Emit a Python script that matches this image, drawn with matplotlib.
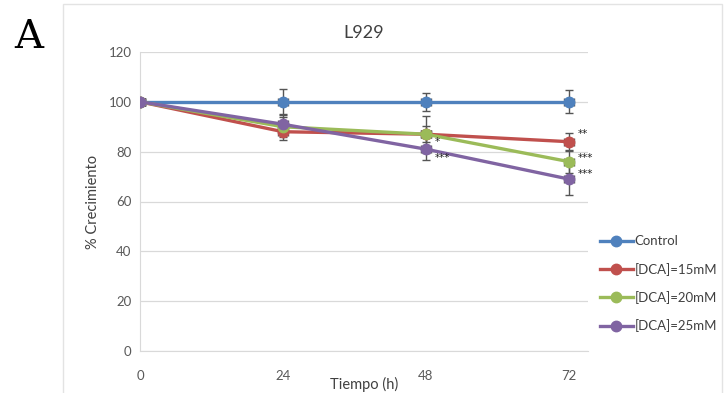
import matplotlib.pyplot as plt
from matplotlib.patches import Rectangle

plt.rcParams["font.family"] = ["Lato", "DejaVu Sans"]

# ---- data ----
tiempo = [0, 24, 48, 72]
series = ["Control", "[DCA]=15mM", "[DCA]=20mM", "[DCA]=25mM"]
control = [100, 100, 100, 100]
dca15 = [100, 88, 87, 84]
dca20 = [100, 90, 87, 76]
dca25 = [100, 91, 81, 69]
err_control = [0, 5.2, 3.6, 4.6]
err_dca15 = [0, 3.4, 3.2, 3.4]
err_dca20 = [0, 4.0, 7.4, 4.4]
err_dca25 = [0, 4.0, 4.4, 6.2]
x_err = 0.9

# significance marks: (x, y, text)
marks = [(48, 84.0, "*"), (48, 77.5, "***"), (72, 87, "**"),
         (72, 77.5, "***"), (72, 71, "***")]

colors = ["#4F81BD", "#C0504D", "#9BBB59", "#8064A2"]
values = [control, dca15, dca20, dca25]
errors = [err_control, err_dca15, err_dca20, err_dca25]

fig = plt.figure(figsize=(7.28, 3.93), dpi=100)
ax = fig.add_axes([140 / 728, 1 - 351 / 393, 448 / 728, 299 / 393])

# outer chart frame
fig.patches.append(Rectangle((63 / 728, -0.05), 659 / 728, 1 - 4 / 393 + 0.05,
                             transform=fig.transFigure, fill=False,
                             edgecolor="#E3E3E3", linewidth=1.0))

for name, ys, es, c in zip(series, values, errors, colors):
    ax.errorbar(tiempo, ys, yerr=es, xerr=x_err, color=c, ecolor="#555555",
                elinewidth=1.0, capsize=3, capthick=1.0, fmt="none", zorder=3)
    ax.plot(tiempo, ys, "-o", color=c, lw=2.4, ms=7.5, label=name, zorder=4)

for x, y, t in marks:
    ax.text(x + 1.4, y, t, fontsize=7.5, family="DejaVu Sans", color="#222222",
            ha="left", va="center", zorder=6)

ax.set_xlim(0, 75.2)
ax.set_ylim(0, 120)
ax.set_xticks(tiempo)
ax.set_yticks(range(0, 121, 20))
ax.tick_params(length=0, labelsize=9.5, labelcolor="#595959")
ax.tick_params(axis="x", pad=14)
ax.tick_params(axis="y", pad=6)
ax.grid(axis="y", color="#D9D9D9", linewidth=0.9)
ax.set_axisbelow(True)
for s in ["top", "right"]:
    ax.spines[s].set_visible(False)
for s in ["left", "bottom"]:
    ax.spines[s].set_color("#D9D9D9")

ax.set_title("L929", fontsize=13, color="#404040", pad=10)
ax.set_ylabel("% Crecimiento", fontsize=10.5, color="#404040", labelpad=6)
ax.set_xlabel("Tiempo (h)", fontsize=10.5, color="#404040", labelpad=-4)

leg = ax.legend(loc="center left", bbox_to_anchor=(1.015, 0.225), frameon=False,
                fontsize=9.5, handlelength=2.5, handletextpad=0.1,
                labelspacing=1.17, borderaxespad=0)
for t in leg.get_texts():
    t.set_color("#404040")

fig.text(14 / 728, 1 - 38 / 393, "A", fontsize=29, family="DejaVu Serif",
         va="center", ha="left")

fig.savefig("out.png", dpi=100)
